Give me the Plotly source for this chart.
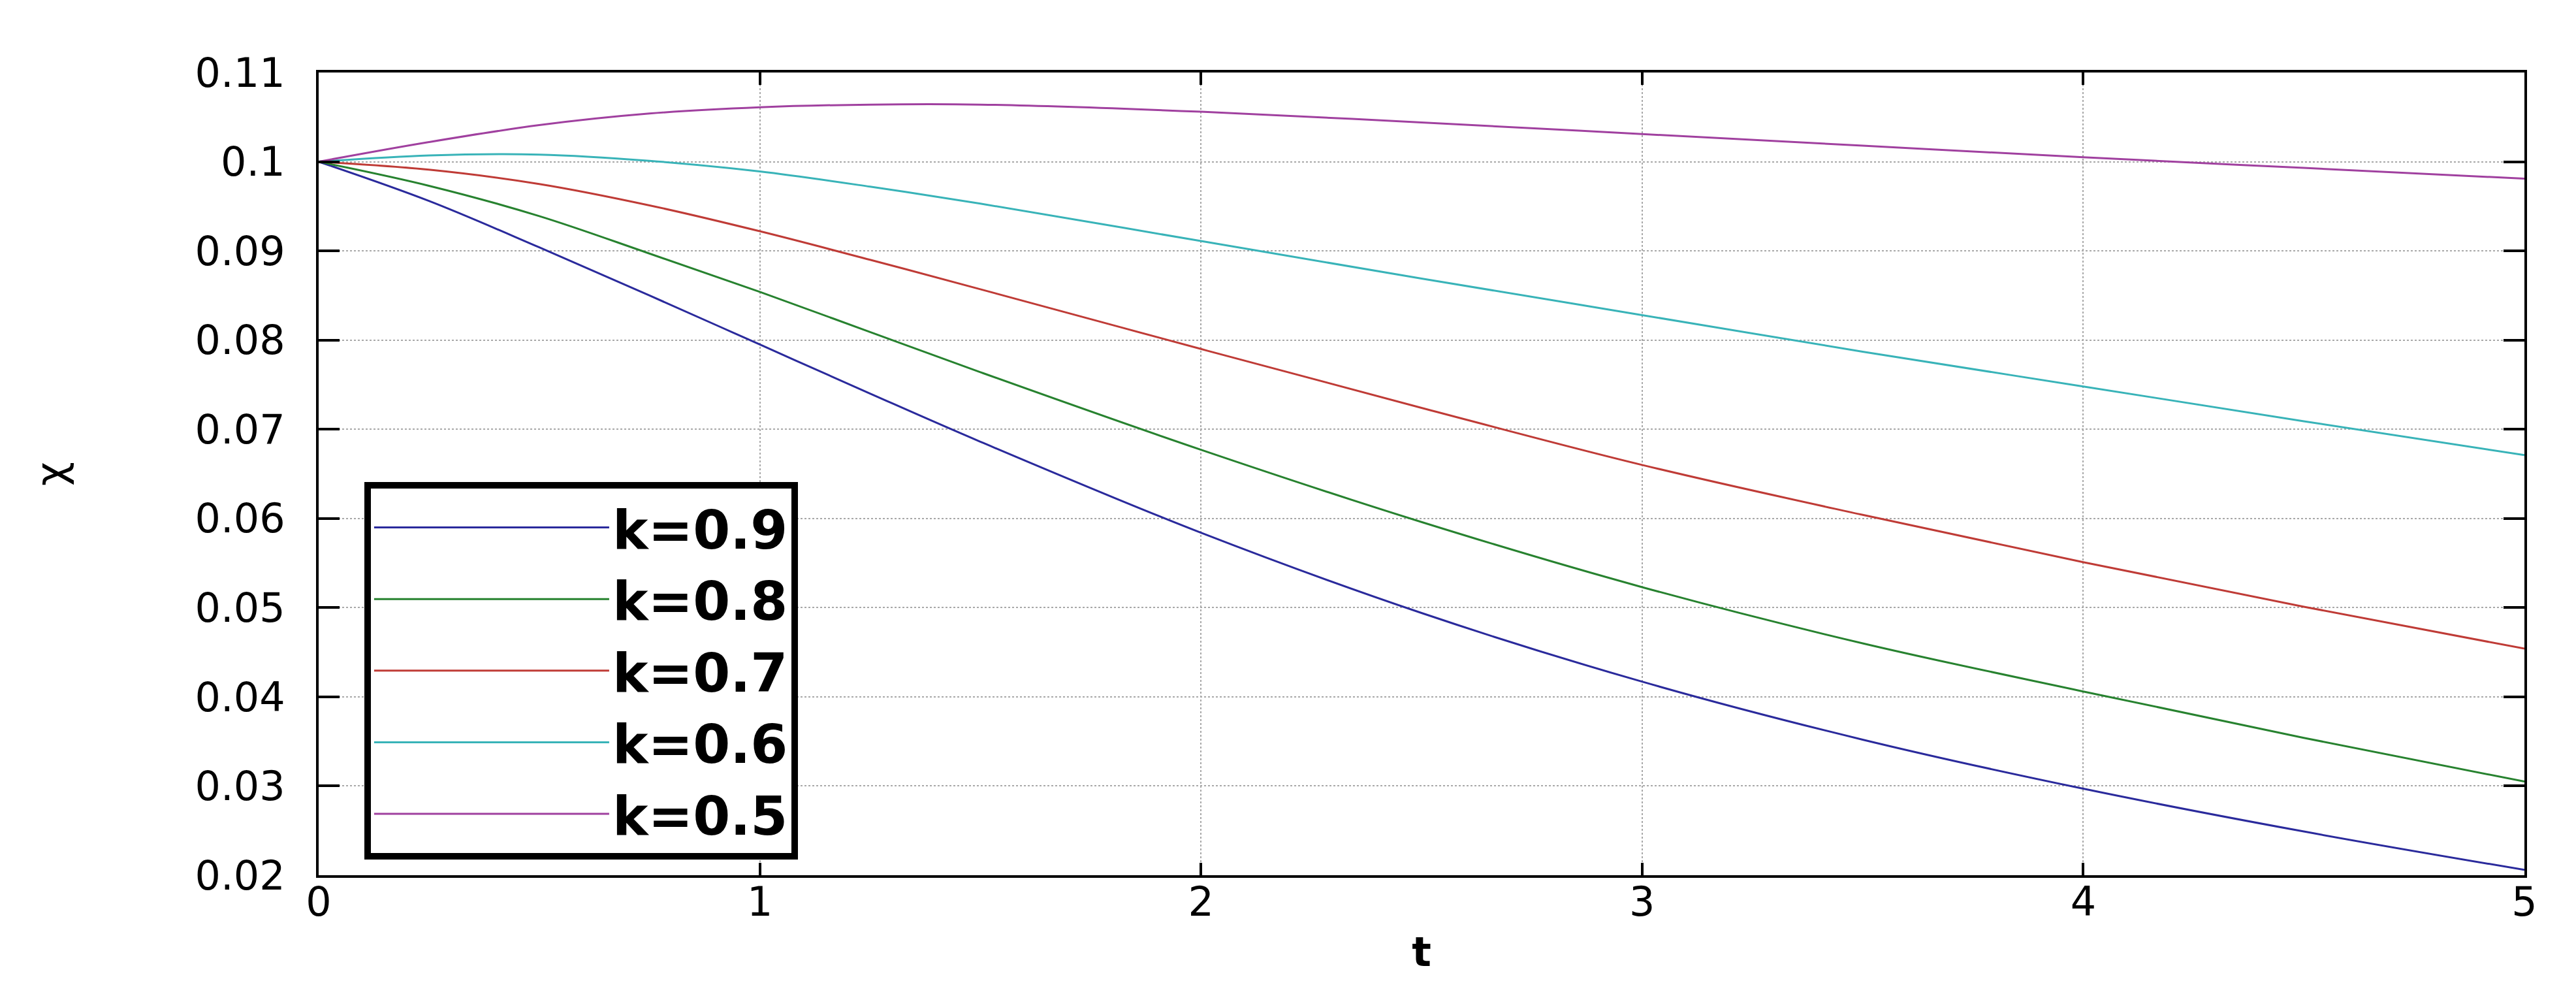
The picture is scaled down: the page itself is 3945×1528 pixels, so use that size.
import plotly.graph_objects as go

# time samples and curve values
t = [0, 0.25, 0.5, 0.75, 1, 1.25, 1.5, 2, 2.5, 3, 3.5, 4, 4.5, 5]

chi_k09 = [0.1, 0.0956, 0.0904, 0.0850, 0.0795, 0.0740, 0.0686, 0.0584, 0.0494, 0.0417, 0.0352, 0.0297, 0.0249, 0.0206]
chi_k08 = [0.1, 0.0973, 0.0939, 0.0897, 0.0854, 0.0809, 0.0764, 0.0677, 0.0596, 0.0523, 0.0460, 0.0406, 0.0354, 0.0305]
chi_k07 = [0.1, 0.0991, 0.0975, 0.0951, 0.0922, 0.0890, 0.0857, 0.0790, 0.0724, 0.0660, 0.0604, 0.0551, 0.0501, 0.0454]
chi_k06 = [0.1, 0.1007, 0.1008, 0.1001, 0.0989, 0.0972, 0.0953, 0.0911, 0.0869, 0.0828, 0.0787, 0.0748, 0.0709, 0.0671]
chi_k05 = [0.1, 0.1022, 0.1041, 0.1054, 0.1061, 0.1064, 0.1064, 0.1056, 0.1044, 0.1031, 0.1018, 0.1005, 0.0993, 0.0981]

series_names = ['k=0.9', 'k=0.8', 'k=0.7', 'k=0.6', 'k=0.5']
series_values = [chi_k09, chi_k08, chi_k07, chi_k06, chi_k05]
colors = ['#2a2a9c', '#27822f', '#bf3b36', '#38b3b8', '#a0409f']

x_ticks = [0, 1, 2, 3, 4, 5]
y_ticks = [0.02, 0.03, 0.04, 0.05, 0.06, 0.07, 0.08, 0.09, 0.1, 0.11]
y_tick_labels = ['0.02', '0.03', '0.04', '0.05', '0.06', '0.07', '0.08', '0.09', '0.1', '0.11']

fig = go.Figure()
for name, vals, col in zip(series_names, series_values, colors):
    fig.add_trace(go.Scatter(
        x=t, y=vals, name=name, mode='lines',
        line=dict(color=col, width=3, shape='spline', smoothing=1.0),
    ))

axis_font = dict(family='DejaVu Sans', size=62, color='black')
fig.update_xaxes(
    range=[0, 5], tickvals=x_ticks,
    ticks='inside', ticklen=19, tickwidth=4, tickcolor='black',
    showline=True, linecolor='black', linewidth=4, mirror='ticks',
    showgrid=True, gridcolor='#a8a8a8', gridwidth=2, griddash='dot',
    zeroline=False, tickfont=axis_font, ticklabelstandoff=-16,
    title=dict(text='<b>t</b>', font=dict(family='DejaVu Sans', size=62, color='black'), standoff=20),
)
fig.update_yaxes(
    range=[0.02, 0.11], tickvals=y_ticks, ticktext=y_tick_labels,
    ticks='inside', ticklen=32, tickwidth=4, tickcolor='black',
    showline=True, linecolor='black', linewidth=4, mirror='ticks',
    showgrid=True, gridcolor='#a8a8a8', gridwidth=2, griddash='dot',
    zeroline=False, tickfont=axis_font, ticklabelstandoff=35,
    title=dict(text='χ', font=dict(family='DejaVu Sans', size=64, color='black'), standoff=178),
)
fig.update_layout(
    width=3945, height=1528,
    margin=dict(l=480, r=87, t=103, b=196),
    plot_bgcolor='white', paper_bgcolor='white',
    legend=dict(
        x=0.0207, y=0.49, xanchor='left', yanchor='top',
        bgcolor='white', bordercolor='black', borderwidth=10,
        font=dict(family='DejaVu Sans', size=82, color='black', weight='bold'),
        itemwidth=360, tracegroupgap=0,
    ),
)
fig.write_html('out.html')
